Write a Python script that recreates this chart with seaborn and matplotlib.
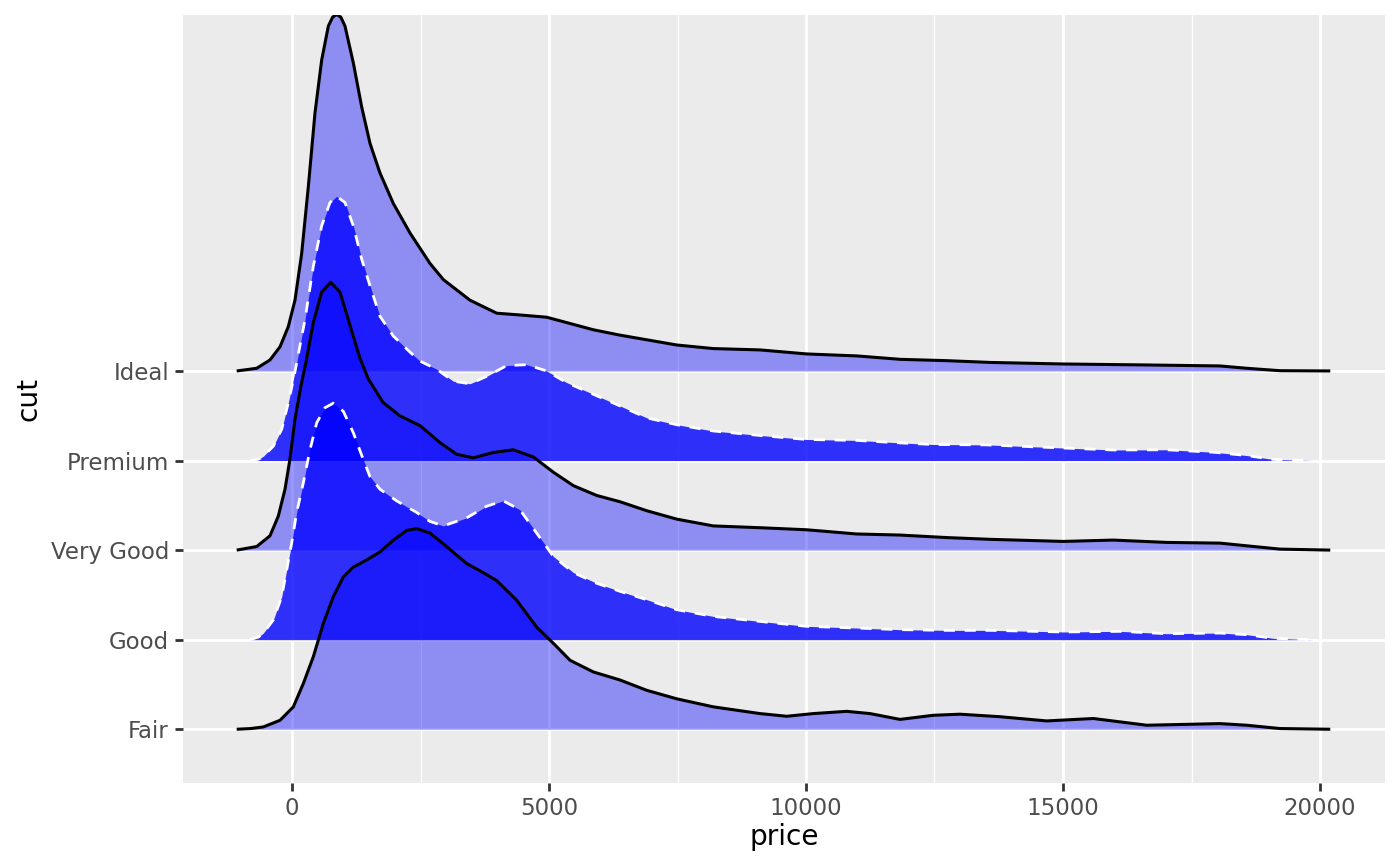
import numpy as np
import pandas as pd
import matplotlib
matplotlib.use("Agg")
import matplotlib.pyplot as plt
import seaborn as sns

# ridge heights, in units of one row spacing
cuts = ["Fair", "Good", "Very Good", "Premium", "Ideal"]

fair_price = [-1076, -800, -558, -233, 26, 220, 415, 609, 804, 998, 1193, 1453, 1712, 1971,
              2231, 2426, 2685, 2944, 3398, 3716, 3982, 4371, 4760, 5084, 5409, 5862, 6381,
              6900, 7484, 8197, 9105, 9624, 10142, 10791, 11245, 11829, 12477, 12996,
              13774, 14683, 15590, 16628, 18054, 18574, 19222, 20200]
fair_height = [0, 0.008, 0.026, 0.10, 0.25, 0.51, 0.81, 1.18, 1.48, 1.70, 1.81, 1.89, 1.98, 2.11,
               2.22, 2.24, 2.19, 2.07, 1.85, 1.75, 1.66, 1.44, 1.14, 0.96, 0.77, 0.64, 0.55,
               0.435, 0.34, 0.25, 0.175, 0.145, 0.175, 0.20, 0.175, 0.11, 0.156, 0.168,
               0.14, 0.093, 0.12, 0.045, 0.063, 0.045, 0.008, 0]

good_price = [-817, -650, -558, -364, -200, -103, -6, 91, 220, 350, 480, 642, 804, 998, 1193,
              1387, 1518, 1712, 2036, 2426, 2685, 2944, 3398, 3787, 4111, 4436, 4760, 5084,
              5473, 5928, 6381, 6900, 7484, 8197, 9105, 10013, 10986, 11829, 12737, 13600,
              15006, 16109, 17017, 18054, 18574, 19092, 19870]
good_height = [0, 0.03, 0.074, 0.22, 0.48, 0.78, 1.08, 1.42, 1.75, 2.12, 2.42, 2.59, 2.64, 2.55, 2.31,
               2.01, 1.82, 1.68, 1.55, 1.42, 1.32, 1.27, 1.36, 1.49, 1.55, 1.45, 1.19, 0.93,
               0.75, 0.63, 0.54, 0.447, 0.335, 0.26, 0.204, 0.149, 0.13, 0.112, 0.104, 0.104,
               0.086, 0.093, 0.067, 0.074, 0.056, 0.015, 0]

verygood_price = [-1076, -687, -428, -266, -136, -39, 58, 170, 272, 415, 577, 752, 934, 1128,
                  1323, 1485, 1770, 2095, 2490, 2879, 3204, 3528, 3917, 4306, 4695, 5084,
                  5473, 5928, 6381, 6900, 7484, 8197, 9105, 10013, 10986, 11829, 12737,
                  13600, 15006, 15979, 17017, 18054, 18574, 19222, 20200]
verygood_height = [0, 0.04, 0.16, 0.38, 0.68, 1.02, 1.46, 1.82, 2.10, 2.54, 2.88, 2.99, 2.88, 2.51,
                   2.14, 1.91, 1.65, 1.50, 1.39, 1.20, 1.07, 1.03, 1.09, 1.12, 1.04, 0.87,
                   0.72, 0.61, 0.54, 0.44, 0.346, 0.27, 0.25, 0.227, 0.18, 0.168, 0.14,
                   0.12, 0.097, 0.112, 0.086, 0.078, 0.048, 0.011, 0]

premium_price = [-817, -650, -558, -364, -200, -72, 40, 253, 415, 577, 739, 869, 1031, 1193,
                 1355, 1518, 1712, 1971, 2296, 2490, 2815, 3138, 3463, 3787, 4177, 4566, 4955,
                 5344, 5862, 6381, 6900, 7484, 8197, 9105, 10013, 10986, 11829, 12477,
                 13500, 15006, 15979, 17017, 17925, 18574, 19092, 19870]
premium_height = [0, 0.015, 0.048, 0.16, 0.35, 0.645, 0.94, 1.575, 2.17, 2.62, 2.88, 2.95, 2.88, 2.62,
                  2.25, 1.95, 1.61, 1.39, 1.21, 1.11, 1.02, 0.886, 0.857, 0.94, 1.06, 1.07, 1.00,
                  0.87, 0.74, 0.61, 0.477, 0.40, 0.33, 0.28, 0.235, 0.225, 0.197, 0.179,
                  0.175, 0.14, 0.118, 0.12, 0.093, 0.056, 0.012, 0]

ideal_price = [-1076, -687, -428, -233, -72, 58, 188, 318, 447, 577, 707, 790, 869, 950, 1031,
               1193, 1355, 1518, 1712, 1971, 2296, 2685, 2944, 3463, 3982, 4436, 4955, 5409,
               5862, 6381, 7484, 8197, 9105, 10013, 10986, 11829, 12737, 13600, 15006,
               16628, 18054, 18574, 19222, 20200]
ideal_height = [0, 0.03, 0.123, 0.27, 0.495, 0.79, 1.31, 2.06, 2.88, 3.47, 3.85, 3.95, 3.98, 3.95, 3.85,
                3.44, 2.95, 2.54, 2.21, 1.87, 1.54, 1.20, 1.02, 0.79, 0.645, 0.625, 0.60, 0.53,
                0.46, 0.40, 0.29, 0.25, 0.235, 0.19, 0.168, 0.13, 0.115, 0.095, 0.078,
                0.067, 0.056, 0.03, 0.003, 0]

ridges = {
    "Fair": (fair_price, fair_height),
    "Good": (good_price, good_height),
    "Very Good": (verygood_price, verygood_height),
    "Premium": (premium_price, premium_height),
    "Ideal": (ideal_price, ideal_height),
}

rows = []
for i, cut in enumerate(cuts):
    px, h = ridges[cut]
    for p, v in zip(px, h):
        rows.append({"cut": cut, "price": p, "base": i + 1, "top": i + 1 + v})
df = pd.DataFrame(rows)

sns.set_theme(style="darkgrid", rc={
    "axes.facecolor": "#EBEBEB",
    "grid.color": "white",
    "axes.edgecolor": "#EBEBEB",
})
plt.rcParams["font.family"] = ["DejaVu Sans"]

fig = plt.figure(figsize=(7, 4.33), dpi=200)
ax = fig.add_axes([183 / 1400, 1 - 783 / 866, 1202 / 1400, 768 / 866])

# top ridge first so that lower ridges sit on top of it
for k, cut in enumerate(cuts[::-1]):
    d = df[df["cut"] == cut]
    light = cut in ("Fair", "Very Good", "Ideal")
    ax.fill_between(d["price"], d["base"], d["top"], color="blue",
                    alpha=0.4 if light else 0.8, linewidth=0, zorder=2 + 2 * k)
    if light:
        sns.lineplot(data=d, x="price", y="top", color="black", linewidth=1.1,
                     sort=False, estimator=None, ax=ax, zorder=3 + 2 * k,
                     solid_joinstyle="round", solid_capstyle="butt")
    else:
        sns.lineplot(data=d, x="price", y="top", color="white", linewidth=1.0,
                     dashes=(4, 3.5), sort=False, estimator=None, ax=ax, zorder=3 + 2 * k,
                     dash_joinstyle="round")

ax.set_xlim((183 - 292) / 0.0514, (1385 - 292) / 0.0514)
ax.set_ylim(0.40, 8.974)
ax.set_xticks([0, 5000, 10000, 15000, 20000])
ax.set_xticks([2500, 7500, 12500, 17500], minor=True)
ax.set_yticks(range(1, len(cuts) + 1))
ax.set_yticklabels(cuts)
ax.grid(which="major", color="white", linewidth=1.0)
ax.grid(which="minor", axis="x", color="white", linewidth=0.5)
ax.set_axisbelow(True)
for s in ax.spines.values():
    s.set_visible(False)

ax.tick_params(which="major", length=2.75, width=1.0, color="#333333",
               labelcolor="#4D4D4D", labelsize=8.25, pad=2.3, bottom=True, left=True)
ax.tick_params(which="minor", length=0)

ax.set_xlabel("price", fontsize=10.1, color="black", va="baseline")
ax.xaxis.set_label_coords(0.5, (783 - 845) / 768)
ax.set_ylabel("cut", fontsize=10.1, color="black", va="center", ha="center")
ax.yaxis.set_label_coords((28 - 183) / 1202, 0.5)

fig.savefig("out.png", dpi=200)
